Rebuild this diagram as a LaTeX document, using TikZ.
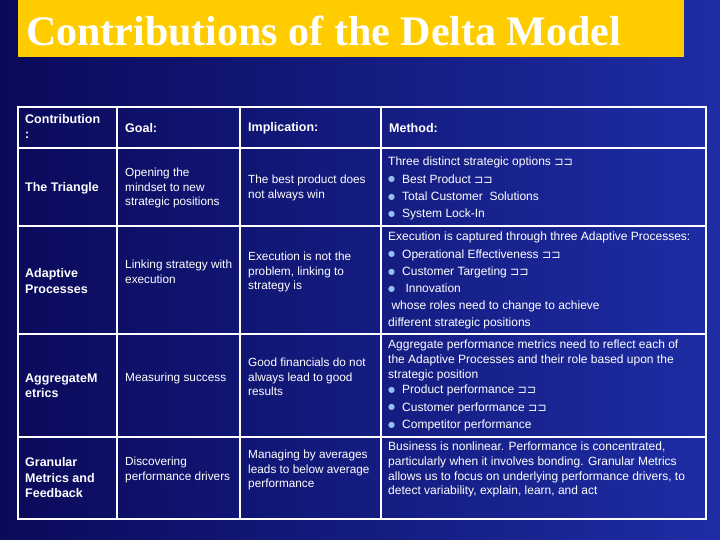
\documentclass[tikz,border=0pt]{standalone}
\usepackage{fontspec}
\setmainfont{Liberation Sans}
\newfontfamily\titlefont{Liberation Serif}
\newfontfamily\djfont{DejaVu Sans}
\definecolor{bgdark}{RGB}{10,10,90}
\definecolor{bglight}{RGB}{30,45,165}
\definecolor{ttl}{RGB}{255,204,0}
\definecolor{bul}{RGB}{150,190,240}
\newcommand{\bx}{{\djfont\fontsize{11}{12}\selectfont ⊐⊐}}
\newcommand{\bl}{\raisebox{1.2pt}{\djfont\color{bul}\fontsize{8}{8}\selectfont ●}\hspace{7pt}}
\begin{document}
\begin{tikzpicture}[x=1pt,y=-1pt,
  txt/.style={text=white,inner sep=0pt,align=left,font=\fontsize{11.8}{14.5}\selectfont},
  hd/.style={txt,font=\fontsize{12.5}{15.5}\selectfont\bfseries},
  meth/.style={txt,anchor=north west,font=\fontsize{12}{17.2}\selectfont}]
\shade[left color=bgdark,right color=bglight] (0,0) rectangle (720,540);
\path[use as bounding box] (0,0) rectangle (720,540);
\fill[ttl] (18,0) rectangle (684,57);
\node[anchor=west,text=white,inner sep=0pt,font=\titlefont\bfseries\fontsize{42}{44}\selectfont] (title) at (26,31) {Contributions of the Delta Model};
% grid
\draw[white,line width=1.4pt] (18,107) rectangle (706,519);
\foreach \x in {117,240,381} \draw[white,line width=1.4pt] (\x,107) -- (\x,519);
\foreach \y in {148,226,334,437} \draw[white,line width=1.4pt] (18,\y) -- (706,\y);
% headers
\node[hd,anchor=north west] (h1) at (25,114) {Contribution\\:};
\node[hd,anchor=west] (h2) at (125,128) {Goal:};
\node[hd,anchor=west] (h3) at (248,128) {Implication:};
\node[hd,anchor=west] (h4) at (389,128) {Method:};
% col1
\node[hd,anchor=west] (c1) at (25,188) {The Triangle};
\node[hd,anchor=west] (c2) at (25,281) {Adaptive\\Processes};
\node[hd,anchor=west] (c3) at (25,386) {AggregateM\\etrics};
\node[hd,anchor=west] (c4) at (25,478) {Granular\\Metrics and\\Feedback};
% col2
\node[txt,anchor=west] (g1) at (125,188) {Opening the\\mindset to new\\strategic positions};
\node[txt,anchor=west] (g2) at (125,272) {Linking strategy with\\execution};
\node[txt,anchor=west] (g3) at (125,378) {Measuring success};
\node[txt,anchor=west] (g4) at (125,470) {Discovering\\performance drivers};
% col3
\node[txt,anchor=west] (i1) at (248,188) {The best product does\\not always win};
\node[txt,anchor=west] (i2) at (248,272) {Execution is not the\\problem, linking to\\strategy is};
\node[txt,anchor=west] (i3) at (248,377) {Good financials do not\\always lead to good\\results};
\node[txt,anchor=west] (i4) at (248,470) {Managing by averages\\leads to below average\\performance};
% col4
\node[meth] (m1) at (388,157) {Three distinct strategic options \bx\\
\bl Best Product \bx\\
\bl Total Customer\ \ Solutions\\
\bl System Lock-In};
\node[meth] (m2) at (388,232) {Execution is captured through three Adaptive Processes:\\
\bl Operational Effectiveness \bx\\
\bl Customer Targeting \bx\\
\bl\ Innovation\\
\ whose roles need to change to achieve\\
different strategic positions};
\node[txt,anchor=north west,font=\fontsize{12}{14.6}\selectfont] (m3) at (388,340) {Aggregate performance metrics need to reflect each of\\the Adaptive Processes and their role based upon the\\strategic position};
\node[meth,anchor=north west] (m3b) at (388,385) {\bl Product performance \bx\\
\bl Customer performance \bx\\
\bl Competitor performance};
\node[txt,anchor=north west,font=\fontsize{12}{14.6}\selectfont] (m4) at (388,442) {Business is nonlinear. Performance is concentrated,\\particularly when it involves bonding. Granular Metrics\\allows us to focus on underlying performance drivers, to\\detect variability, explain, learn, and act};
\end{tikzpicture}
\end{document}
